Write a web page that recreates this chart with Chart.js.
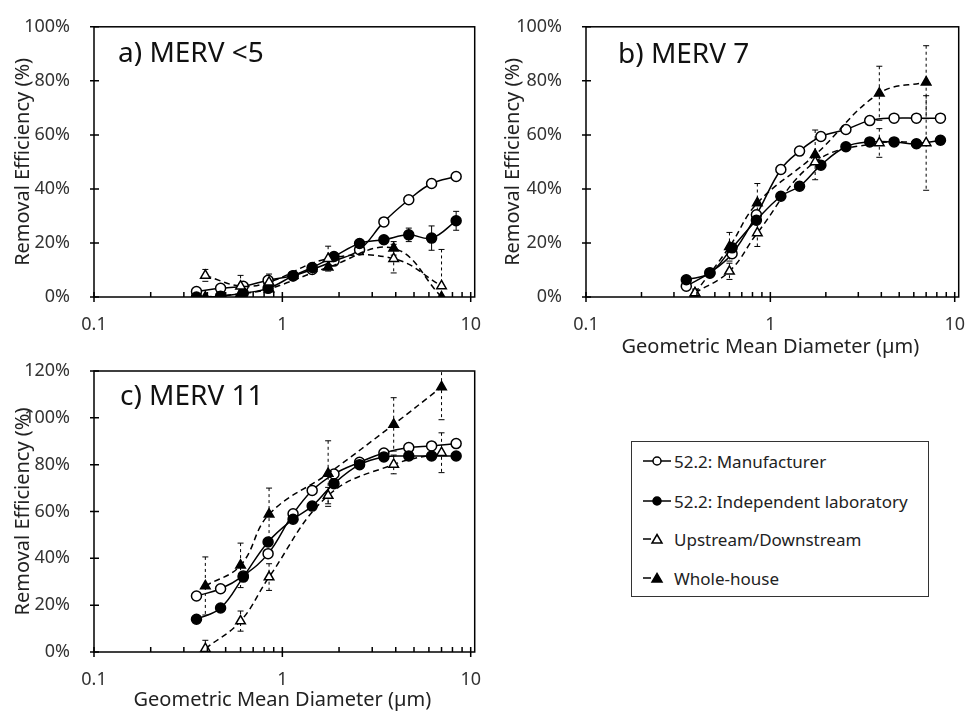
<!DOCTYPE html>
<html lang="en">
<head>
<meta charset="UTF-8">
<title>Removal Efficiency by MERV Rating</title>
<script src="https://cdn.jsdelivr.net/npm/chart.js"></script>
<style>
  body { margin: 0; background: #fff; font-family: "Noto Sans", sans-serif; }
  #wrap { position: relative; width: 974px; height: 713px; overflow: hidden; }
  canvas { position: absolute; }
  #legend { position: absolute; left: 631px; top: 441px; width: 296px; height: 154px; border: 1.5px solid #333; }
  .item { position: absolute; left: 10px; height: 24px; display: flex; align-items: center; font-size: 17px; color: #222; white-space: nowrap; }
  .item svg { margin-right: 2px; }
</style>
<script>
// particle size bins (um)
const sizes522 = [0.35, 0.47, 0.62, 0.84, 1.14, 1.44, 1.88, 2.57, 3.46, 4.69, 6.2, 8.37];
const sizesOpc = [0.39, 0.6, 0.85, 1.75, 3.9, 7.0];

const seriesNames = ['52.2: Manufacturer', '52.2: Independent laboratory', 'Upstream/Downstream', 'Whole-house'];
const xTickLabels = [0.1, 1, 10];
const xMinorTicks = [0.2, 0.3, 0.4, 0.5, 0.6, 0.7, 0.8, 0.9, 2, 3, 4, 5, 6, 7, 8, 9];

// a) MERV <5
const aManufacturer = [2, 3.2, 4, 6.2, 7.9, 10.2, 13.3, 17.5, 27.8, 36, 42, 44.6];
const aIndependent = [0, 0.3, 1.4, 3.2, 7.8, 10.9, 15, 19.8, 21.2, 23, 21.8, 28.2];
const aIndependentErr = [0, 0, 0, 0, 0, 0, 0, 0, 1.5, 2.5, 4.5, 3.5];
const aUpDown = [8, 4, 5.5, 14.2, 14.2, 4.1];
const aUpDownErr = [2.2, 4, 3, 4.6, 5.3, 13.5];
const aWhole = [0, 1.2, 3, 11, 18, 0];
const aWholeErr = [0, 0, 0, 0, 2.5, 0];

// b) MERV 7
const bManufacturer = [4, 9, 16, 30.4, 47.2, 54, 59.4, 62, 65.3, 66.2, 66.2, 66.2];
const bIndependent = [6.4, 8.8, 18.2, 28.4, 37.3, 41, 48.8, 55.6, 57.4, 57.4, 56.7, 58];
const bIndependentErr = [0, 0, 0, 0, 0, 0, 0, 0, 0, 0, 1.5, 1.5];
const bUpDown = [1.5, 9.5, 23.7, 50, 57, 57];
const bUpDownErr = [0, 3, 5, 0, 5.3, 17.5];
const bWhole = [1.4, 18.6, 34.8, 52.6, 75.4, 79.5];
const bWholeErr = [1.5, 5.3, 7.2, 9.2, 10, 13.5];

// c) MERV 11
const cManufacturer = [23.9, 27, 32.5, 42, 59, 69, 76, 81, 85, 87.3, 88, 89];
const cIndependent = [14, 18.8, 32, 47, 56.7, 62.3, 71.9, 80, 83.3, 83.7, 83.7, 83.7];
const cUpDown = [1.4, 13.2, 32, 66.8, 80.1, 85.1];
const cUpDownErr = [3.6, 4.3, 5.7, 3.5, 4, 8.5];
const cWhole = [28.2, 37, 58.8, 76.2, 97.2, 113.2];
const cWholeErr = [12.4, 9.5, 11.2, 14, 11.4, 14];

function makeSeries(label, xs, ys, errs, filled, tri) {
    return {
        label: label,
        data: xs.map((x, i) => ({ x: x, y: ys[i] })),
        errors: errs,
        borderColor: '#000',
        backgroundColor: filled ? '#000' : '#fff',
        borderWidth: 1.5,
        borderDash: tri ? [6, 4] : [],
        pointStyle: tri ? 'triangle' : 'circle',
        pointRadius: tri ? 5.5 : 5,
        pointBorderWidth: 1.5,
        pointBackgroundColor: filled ? '#000' : '#fff',
        pointBorderColor: '#000',
        tension: 0.4,
        fill: false
    };
}

// frame, tick marks and the panel label
const frameTicks = {
    id: 'frameTicks',
    afterDraw(chart, args, opts) {
        const { ctx, chartArea: a, scales: { x, y } } = chart;
        ctx.save();
        ctx.strokeStyle = '#000';
        ctx.lineWidth = 1.5;
        ctx.strokeRect(a.left, a.top, a.right - a.left + 4, a.bottom - a.top);
        ctx.beginPath();
        xMinorTicks.forEach(v => {
            const px = x.getPixelForValue(v);
            ctx.moveTo(px, a.bottom);
            ctx.lineTo(px, a.bottom - 5);
        });
        xTickLabels.forEach(v => {
            const px = x.getPixelForValue(v);
            ctx.moveTo(px, a.bottom + 5);
            ctx.lineTo(px, a.bottom - 5);
        });
        y.ticks.forEach(t => {
            const py = y.getPixelForValue(t.value);
            ctx.moveTo(a.left - 4, py);
            ctx.lineTo(a.left + 5, py);
        });
        ctx.stroke();
        ctx.font = '28px "Noto Sans"';
        ctx.fillStyle = '#111';
        ctx.textBaseline = 'alphabetic';
        ctx.fillText(opts.label, a.left + opts.dx, a.top + opts.dy);
        ctx.restore();
    }
};

// vertical error bars, drawn under the markers
const errorBars = {
    id: 'errorBars',
    beforeDatasetsDraw(chart) {
        const { ctx, chartArea: a, scales: { x, y } } = chart;
        ctx.save();
        ctx.beginPath();
        ctx.rect(a.left, a.top - 1, a.right - a.left, a.bottom - a.top + 1);
        ctx.clip();
        ctx.strokeStyle = '#000';
        ctx.lineWidth = 1;
        chart.data.datasets.forEach(ds => {
            if (!ds.errors) return;
            const dashed = ds.borderDash && ds.borderDash.length;
            ds.data.forEach((p, i) => {
                const e = ds.errors[i];
                if (!e) return;
                const px = x.getPixelForValue(p.x);
                const top = y.getPixelForValue(p.y + e);
                const bot = y.getPixelForValue(p.y - e);
                ctx.setLineDash(dashed ? [3, 3] : []);
                ctx.beginPath();
                ctx.moveTo(px, top);
                ctx.lineTo(px, bot);
                ctx.stroke();
                ctx.setLineDash([]);
                ctx.beginPath();
                ctx.moveTo(px - 3, top); ctx.lineTo(px + 3, top);
                ctx.moveTo(px - 3, bot); ctx.lineTo(px + 3, bot);
                ctx.stroke();
            });
        });
        ctx.restore();
    }
};

function createPanel(id, label, ymax, showXTitle, box, sets) {
    const ctx = document.getElementById(id).getContext('2d');
    return new Chart(ctx, {
        type: 'line',
        data: {
            datasets: [
                makeSeries(seriesNames[2], sizesOpc, sets.upDown, sets.upDownErr, false, true),
                makeSeries(seriesNames[3], sizesOpc, sets.whole, sets.wholeErr, true, true),
                makeSeries(seriesNames[1], sizes522, sets.independent, sets.independentErr, true, false),
                makeSeries(seriesNames[0], sizes522, sets.manufacturer, null, false, false)
            ]
        },
        options: {
            responsive: false,
            animation: false,
            devicePixelRatio: 1,
            layout: { padding: { top: box.top, right: box.right, left: 0, bottom: 0 } },
            plugins: {
                legend: { display: false },
                tooltip: { enabled: false },
                frameTicks: { label: label, dx: box.labelDx, dy: box.labelDy }
            },
            scales: {
                x: {
                    type: 'logarithmic',
                    min: 0.1,
                    max: 10,
                    grid: { display: false },
                    border: { display: false },
                    afterBuildTicks: s => { s.ticks = xTickLabels.map(v => ({ value: v })); },
                    afterFit: s => { s.height = box.xHeight; },
                    ticks: {
                        autoSkip: false,
                        maxRotation: 0,
                        padding: 9,
                        color: '#333',
                        font: { size: 18 },
                        callback: v => String(v)
                    },
                    title: {
                        display: showXTitle,
                        text: 'Geometric Mean Diameter (µm)',
                        color: '#222',
                        font: { size: 20 },
                        padding: { top: 0, bottom: 1 }
                    }
                },
                y: {
                    min: 0,
                    max: ymax,
                    grid: { display: false },
                    border: { display: false },
                    afterFit: s => { s.width = box.yWidth; },
                    ticks: {
                        stepSize: 20,
                        padding: 16,
                        color: '#333',
                        font: { size: 18 },
                        callback: v => v + '%'
                    },
                    title: {
                        display: true,
                        text: 'Removal Efficiency (%)',
                        color: '#222',
                        font: { size: 20 },
                        padding: { top: 11, bottom: 0 }
                    }
                }
            }
        },
        plugins: [errorBars, frameTicks]
    });
}

document.addEventListener('DOMContentLoaded', () => {
    Chart.defaults.font.family = '"Noto Sans", sans-serif';

    createPanel('chartA', 'a) MERV <5', 100, false,
        { top: 16, right: 18, xHeight: 38, yWidth: 94, labelDx: 24, labelDy: 35 },
        { manufacturer: aManufacturer, independent: aIndependent, independentErr: aIndependentErr,
          upDown: aUpDown, upDownErr: aUpDownErr, whole: aWhole, wholeErr: aWholeErr });

    createPanel('chartB', 'b) MERV 7', 100, true,
        { top: 16, right: 11, xHeight: 63, yWidth: 96, labelDx: 32, labelDy: 36 },
        { manufacturer: bManufacturer, independent: bIndependent, independentErr: bIndependentErr,
          upDown: bUpDown, upDownErr: bUpDownErr, whole: bWhole, wholeErr: bWholeErr });

    createPanel('chartC', 'c) MERV 11', 120, true,
        { top: 31, right: 18, xHeight: 61, yWidth: 94, labelDx: 26, labelDy: 34 },
        { manufacturer: cManufacturer, independent: cIndependent, independentErr: null,
          upDown: cUpDown, upDownErr: cUpDownErr, whole: cWhole, wholeErr: cWholeErr });
});
</script>
</head>
<body>
<div id="wrap">
  <canvas id="chartA" width="490" height="335" style="left:0;top:0"></canvas>
  <canvas id="chartB" width="484" height="360" style="left:490px;top:0"></canvas>
  <canvas id="chartC" width="490" height="373" style="left:0;top:340px"></canvas>
  <div id="legend">
    <div class="item" style="top:7px">
      <svg width="30" height="14"><line x1="1" y1="7" x2="29" y2="7" stroke="#000" stroke-width="1.5"/><circle cx="15" cy="7" r="4" fill="#fff" stroke="#000" stroke-width="1.5"/></svg>52.2: Manufacturer
    </div>
    <div class="item" style="top:47px">
      <svg width="30" height="14"><line x1="1" y1="7" x2="29" y2="7" stroke="#000" stroke-width="1.5"/><circle cx="15" cy="7" r="4" fill="#000" stroke="#000" stroke-width="1.5"/></svg>52.2: Independent laboratory
    </div>
    <div class="item" style="top:85px">
      <svg width="30" height="14"><line x1="1" y1="7" x2="9" y2="7" stroke="#000" stroke-width="1.5"/><polygon points="15,2.5 20,11 10,11" fill="#fff" stroke="#000" stroke-width="1.5"/></svg>Upstream/Downstream
    </div>
    <div class="item" style="top:124px">
      <svg width="30" height="14"><line x1="1" y1="7" x2="9" y2="7" stroke="#000" stroke-width="1.5"/><polygon points="15,2.5 20,11 10,11" fill="#000" stroke="#000" stroke-width="1.5"/></svg>Whole-house
    </div>
  </div>
</div>
</body>
</html>
